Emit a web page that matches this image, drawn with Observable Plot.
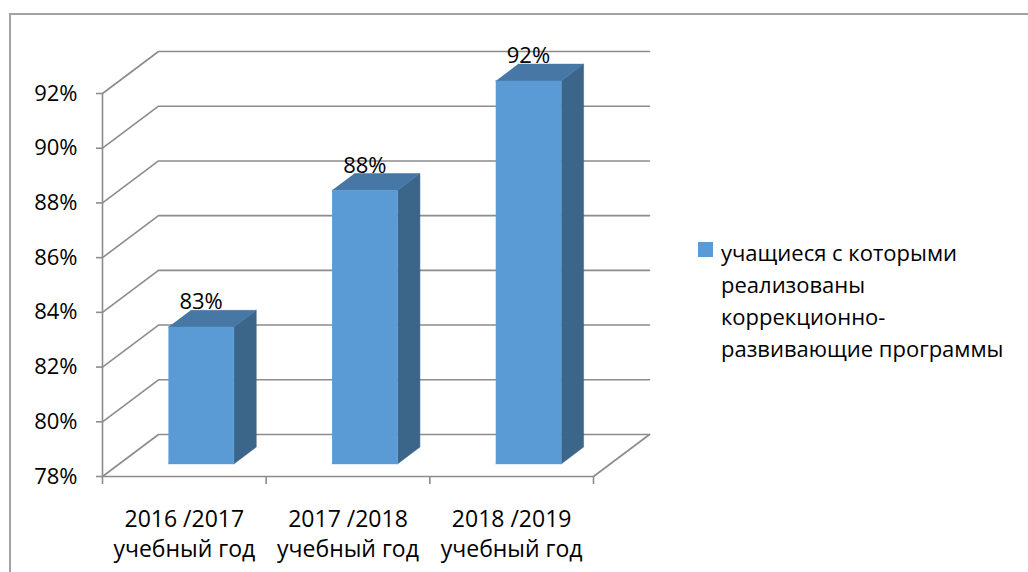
<!DOCTYPE html>
<html>
<head>
<meta charset="utf-8">
<script src="https://cdn.jsdelivr.net/npm/d3@7"></script>
<script src="https://cdn.jsdelivr.net/npm/@observablehq/plot@0.6"></script>
<style>
  html, body { margin: 0; padding: 0; background: #fff; width: 1028px; height: 572px; overflow: hidden; }
  #frame { position: absolute; left: 9px; top: 13px; width: 1100px; height: 700px; border: 2px solid #a3a3a3; box-sizing: border-box; }
  #chart { position: absolute; left: 0; top: 0; }
  #legend { position: absolute; left: 698px; top: 236px; font-family: "Open Sans", sans-serif; font-size: 22px; line-height: 32px; color: #000; }
  #legend .sw { position: absolute; left: 0; top: 6px; width: 15px; height: 15px; background: #5b9bd5; }
  #legend .tx { margin-left: 23px; width: 310px; }
</style>
</head>
<body>
<div id="frame"></div>
<div id="chart"></div>
<div id="legend"></div>
<script>
// ---- data ----
const categories = ["2016 /2017\nучебный год", "2017 /2018\nучебный год", "2018 /2019\nучебный год"];
const values = [83, 88, 92];
const valueLabels = ["83%", "88%", "92%"];
const yTicks = [78, 80, 82, 84, 86, 88, 90, 92];
const seriesName = ["учащиеся с которыми", "реализованы", "коррекционно-", "развивающие программы"];

// ---- 3D geometry (in data units) ----
const yMin = 78, yMax = 92;
const DX = 56 / (491 / 3);          // depth offset along x, in category units
const DY = 42 / ((476 - 93) / 14);  // depth offset along y, in percent units
const barW = 0.4, dFront = 0.3, dBack = 0.7;
const P = (x, y, d) => ({x: x + d * DX, y: y + d * DY});

const grid = [];
yTicks.forEach((t, k) => {
  grid.push({...P(0, t, 0), z: k}, {...P(0, t, 1), z: k}, {...P(3, t, 1), z: k});
});
const floorRight = [P(3, yMin, 0), P(3, yMin, 1)];

const frontFace = [], topFace = [], sideFace = [];
values.forEach((v, i) => {
  const xl = i + 0.5 - barW / 2, xr = i + 0.5 + barW / 2;
  frontFace.push({...P(xl, yMin, dFront), z: i}, {...P(xr, yMin, dFront), z: i}, {...P(xr, v, dFront), z: i}, {...P(xl, v, dFront), z: i});
  topFace.push({...P(xl, v, dFront), z: i}, {...P(xr, v, dFront), z: i}, {...P(xr, v, dBack), z: i}, {...P(xl, v, dBack), z: i});
  sideFace.push({...P(xr, yMin, dFront), z: i}, {...P(xr, yMin, dBack), z: i}, {...P(xr, v, dBack), z: i}, {...P(xr, v, dFront), z: i});
});
const labels = values.map((v, i) => ({...P(i + 0.5, v, dBack), xc: i + 0.5 + dFront * DX, text: valueLabels[i]}));

const gridColor = "#8c8c8c";

const chart = Plot.plot({
  width: 1028,
  height: 572,
  marginLeft: 102,
  marginRight: 435,
  marginTop: 93,
  marginBottom: 96,
  style: {fontFamily: "Open Sans, sans-serif", fontSize: "22px", background: "transparent", overflow: "visible", color: "#000"},
  x: {domain: [0, 3], label: null},
  y: {domain: [yMin, yMax], label: null},
  marks: [
    Plot.line(grid, {x: "x", y: "y", z: "z", stroke: gridColor, strokeWidth: 1.6}),
    Plot.line(floorRight, {x: "x", y: "y", stroke: gridColor, strokeWidth: 1.6}),
    Plot.ruleY([yMin], {stroke: gridColor, strokeWidth: 1.6}),
    Plot.ruleX([0], {y1: yMin, y2: yMax, stroke: gridColor, strokeWidth: 1.6}),
    Plot.line(sideFace, {x: "x", y: "y", z: "z", fill: "#3b6589", stroke: "#3b6589", strokeWidth: 0.5}),
    Plot.line(topFace, {x: "x", y: "y", z: "z", fill: "#4677a5", stroke: "#4677a5", strokeWidth: 0.5}),
    Plot.line(frontFace, {x: "x", y: "y", z: "z", fill: "#5b9bd5", stroke: "#5b9bd5", strokeWidth: 0.5}),
    Plot.text(labels, {x: "xc", y: "y", text: "text", lineAnchor: "bottom", dy: -1, fill: "#000", fontSize: 22}),
    Plot.axisY(yTicks, {label: null, tickSize: 6, tickPadding: 19, tickFormat: d => d + "%", stroke: gridColor, strokeWidth: 1.6, fill: "#000", fontSize: 22}),
    Plot.axisX([0, 1, 2, 3], {label: null, tickSize: 8, tickFormat: () => "", stroke: gridColor, strokeWidth: 1.6}),
    Plot.axisX([0.5, 1.5, 2.5], {label: null, tickSize: 0, tickPadding: 29, tickFormat: (d, i) => categories[i], lineHeight: 1.3, fill: "#000", fontSize: 23}),
  ]
});
document.getElementById("chart").appendChild(chart);

const lg = document.getElementById("legend");
lg.innerHTML = '<div class="sw"></div><div class="tx">' + seriesName.join("<br>") + '</div>';
</script>
</body>
</html>
